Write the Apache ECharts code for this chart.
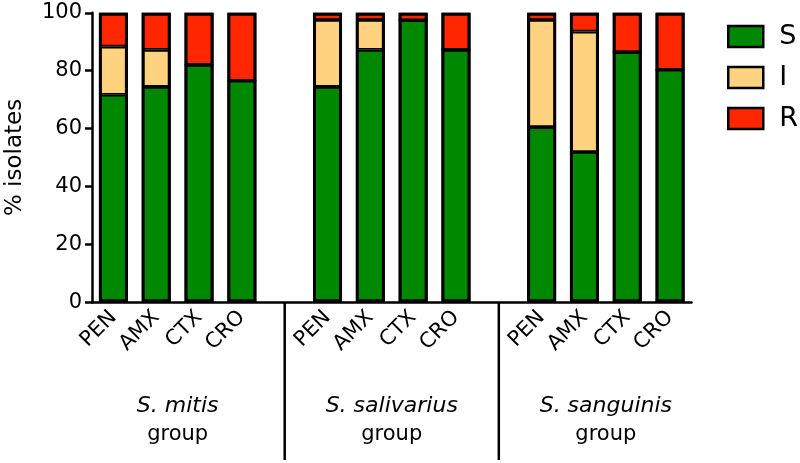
<!DOCTYPE html>
<html>
<head>
<meta charset="utf-8">
<script src="https://cdn.jsdelivr.net/npm/echarts@6/dist/echarts.min.js"></script>
<style>
html,body{margin:0;padding:0;background:#fff;}
#c{width:800px;height:463px;}
</style>
</head>
<body>
<div id="c"></div>
<script>
// Categories (empty strings are the gaps between groups)
var categories = ['PEN','AMX','CTX','CRO','', 'PEN','AMX','CTX','CRO','', 'PEN','AMX','CTX','CRO'];
var groupNames = ['S. mitis','S. salivarius','S. sanguinis'];
var groupStart = [0, 5, 10];
var yTicks = [0, 20, 40, 60, 80, 100];

// % isolates per category
var S = [71.7, 74.4, 82.0, 76.5, null, 74.4, 87.2, 97.4, 87.2, null, 60.5, 51.9, 86.4, 80.3];
var I = [16.6, 12.8, 0, 0, null, 23.1, 10.3, 0, 0, null, 37.0, 41.6, 0, 0];
var R = [11.7, 12.8, 18.0, 23.5, null, 2.5, 2.5, 2.6, 12.8, null, 2.5, 6.5, 13.6, 19.7];

var FONT = 'DejaVu Sans';
var colors = {S: '#008800', I: '#FFD27F', R: '#FF2600'};
var BAR_W = 29;

// outline of each whole column (sum of its segments)
var totals = S.map(function (v, i) { return v == null ? null : +(v + I[i] + R[i]).toFixed(1); });

var chart = echarts.init(document.getElementById('c'));

function barSeries(name, data) {
  return {
    name: name,
    type: 'bar',
    stack: 'all',
    data: data,
    barWidth: BAR_W,
    barGap: '-100%',
    itemStyle: {color: colors[name], borderColor: '#000', borderWidth: 1.8},
    emphasis: {disabled: true}
  };
}

var option = {
  animation: false,
  backgroundColor: '#fff',
  textStyle: {fontFamily: FONT},
  grid: {left: 92, right: 108.5, top: 12.8, bottom: 160.8, containLabel: false, outerBoundsMode: 'none'},
  legend: {
    orient: 'vertical',
    left: 727,
    top: 23,
    padding: 0,
    itemWidth: 35,
    itemHeight: 21,
    itemGap: 14,
    icon: 'rect',
    itemStyle: {borderWidth: 2.5, borderColor: '#000'},
    textStyle: {fontFamily: FONT, fontSize: 27, color: '#000', padding: [0, 0, 0, 11]},
    data: ['S', 'I', 'R']
  },
  xAxis: {
    type: 'category',
    data: categories,
    axisLine: {lineStyle: {color: '#000', width: 2.5}},
    axisTick: {
      alignWithLabel: true, length: 7,
      lineStyle: {color: '#000', width: 2.5},
      interval: function (i) { return categories[i] !== ''; }
    },
    axisLabel: {interval: 0, rotate: 45, margin: 12, color: '#000', fontFamily: FONT, fontSize: 21}
  },
  yAxis: {
    type: 'value',
    min: 0, max: 100, interval: 20,
    name: '% isolates',
    nameLocation: 'middle',
    nameRotate: 90,
    nameGap: 65,
    nameTextStyle: {fontFamily: FONT, fontSize: 23, color: '#000'},
    axisLine: {show: true, lineStyle: {color: '#000', width: 2.5}},
    axisTick: {show: true, length: 7, lineStyle: {color: '#000', width: 2.5}},
    axisLabel: {margin: 10, color: '#000', fontFamily: FONT, fontSize: 21,
      formatter: function (v) { return yTicks.indexOf(v) >= 0 ? String(v) : ''; }},
    splitLine: {show: false}
  },
  series: [
    barSeries('S', S), barSeries('I', I), barSeries('R', R),
    {
      name: 'outline', type: 'bar', data: totals, barWidth: BAR_W, barGap: '-100%',
      itemStyle: {color: 'rgba(0,0,0,0)', borderColor: '#000', borderWidth: 3},
      emphasis: {disabled: true}, silent: true
    }
  ]
};
chart.setOption(option);

// group labels and separators, placed through the axis scale
var graphics = [];
var y0 = chart.convertToPixel({yAxisIndex: 0}, 0);
groupNames.forEach(function (g, k) {
  var a = chart.convertToPixel({xAxisIndex: 0}, groupStart[k]);
  var b = chart.convertToPixel({xAxisIndex: 0}, groupStart[k] + 3);
  var cx = (a + b) / 2;
  graphics.push({type: 'text', x: cx, y: 406, style: {text: g, fontFamily: FONT, fontStyle: 'italic', fontSize: 22, fill: '#000', align: 'center', verticalAlign: 'middle'}});
  graphics.push({type: 'text', x: cx, y: 435, style: {text: 'group', fontFamily: FONT, fontSize: 21, fill: '#000', align: 'center', verticalAlign: 'middle'}});
});
categories.forEach(function (c, i) {
  if (c === '') {
    var sx = chart.convertToPixel({xAxisIndex: 0}, i);
    graphics.push({type: 'line', shape: {x1: sx, y1: y0, x2: sx, y2: 460}, style: {stroke: '#000', lineWidth: 2.5}});
  }
});
chart.setOption({graphic: graphics});
</script>
</body>
</html>
